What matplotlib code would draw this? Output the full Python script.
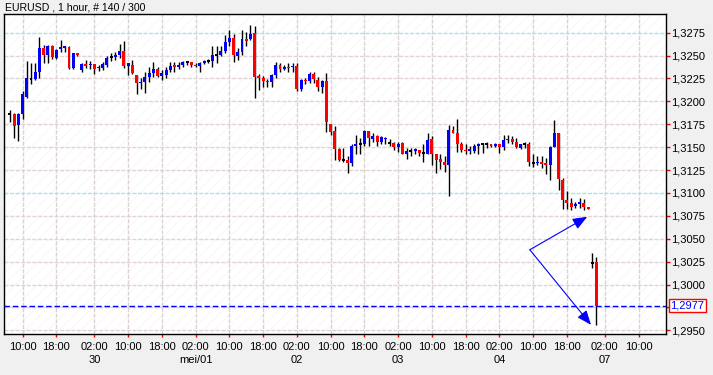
import matplotlib
matplotlib.use("Agg")
import matplotlib.pyplot as plt
from matplotlib.patches import Rectangle
from matplotlib.ticker import FuncFormatter, MultipleLocator

plt.rcParams['font.family'] = ['Liberation Sans', 'DejaVu Sans']
plt.rcParams['hatch.linewidth'] = 0.5

# hourly EURUSD candles (open, high, low, close), 140 bars
opens = [1.3186, 1.3186, 1.3174, 1.3186, 1.3205, 1.3224, 1.3224, 1.3232, 1.3258, 1.3251,
         1.3260, 1.3247, 1.3257, 1.3258, 1.3259, 1.3236, 1.3253, 1.3234, 1.3241, 1.3240,
         1.3241, 1.3236, 1.3236, 1.3240, 1.3248, 1.3248, 1.3251, 1.3255, 1.3239, 1.3240,
         1.3229, 1.3220, 1.3221, 1.3227, 1.3231, 1.3235, 1.3228, 1.3229, 1.3234, 1.3239,
         1.3238, 1.3240, 1.3243, 1.3243, 1.3240, 1.3239, 1.3242, 1.3244, 1.3244, 1.3251,
         1.3251, 1.3255, 1.3265, 1.3269, 1.3250, 1.3254, 1.3268, 1.3268, 1.3275, 1.3227,
         1.3226, 1.3222, 1.3221, 1.3229, 1.3240, 1.3235, 1.3237, 1.3237, 1.3239, 1.3214,
         1.3223, 1.3222, 1.3230, 1.3223, 1.3216, 1.3222, 1.3175, 1.3168, 1.3148, 1.3136,
         1.3136, 1.3133, 1.3151, 1.3154, 1.3154, 1.3168, 1.3159, 1.3162, 1.3156, 1.3159,
         1.3155, 1.3155, 1.3150, 1.3155, 1.3143, 1.3146, 1.3146, 1.3147, 1.3144, 1.3143,
         1.3159, 1.3142, 1.3137, 1.3134, 1.3131, 1.3169, 1.3166, 1.3154, 1.3147, 1.3146,
         1.3146, 1.3151, 1.3154, 1.3154, 1.3154, 1.3151, 1.3154, 1.3150, 1.3158, 1.3159,
         1.3156, 1.3149, 1.3154, 1.3154, 1.3133, 1.3133, 1.3134, 1.3133, 1.3130, 1.3150,
         1.3165, 1.3114, 1.3092, 1.3089, 1.3086, 1.3088, 1.3089, 1.3084, 1.3024, 1.3025]
highs = [1.3191, 1.3187, 1.3187, 1.3211, 1.3244, 1.3242, 1.3242, 1.3270, 1.3262, 1.3262,
         1.3262, 1.3257, 1.3267, 1.3261, 1.3260, 1.3253, 1.3253, 1.3242, 1.3245, 1.3244,
         1.3241, 1.3240, 1.3243, 1.3249, 1.3253, 1.3254, 1.3263, 1.3266, 1.3242, 1.3245,
         1.3229, 1.3226, 1.3232, 1.3238, 1.3243, 1.3238, 1.3234, 1.3238, 1.3243, 1.3243,
         1.3243, 1.3244, 1.3244, 1.3243, 1.3242, 1.3243, 1.3245, 1.3246, 1.3260, 1.3260,
         1.3260, 1.3272, 1.3278, 1.3274, 1.3258, 1.3278, 1.3276, 1.3283, 1.3282, 1.3230,
         1.3228, 1.3224, 1.3230, 1.3243, 1.3242, 1.3240, 1.3242, 1.3242, 1.3242, 1.3224,
         1.3226, 1.3232, 1.3232, 1.3227, 1.3223, 1.3231, 1.3175, 1.3173, 1.3149, 1.3149,
         1.3140, 1.3154, 1.3163, 1.3160, 1.3169, 1.3168, 1.3165, 1.3163, 1.3162, 1.3161,
         1.3159, 1.3156, 1.3156, 1.3156, 1.3149, 1.3149, 1.3149, 1.3147, 1.3153, 1.3165,
         1.3162, 1.3143, 1.3142, 1.3140, 1.3174, 1.3173, 1.3181, 1.3156, 1.3153, 1.3151,
         1.3154, 1.3155, 1.3155, 1.3156, 1.3154, 1.3155, 1.3154, 1.3163, 1.3163, 1.3162,
         1.3160, 1.3154, 1.3156, 1.3156, 1.3142, 1.3140, 1.3140, 1.3138, 1.3151, 1.3180,
         1.3166, 1.3116, 1.3102, 1.3095, 1.3090, 1.3094, 1.3093, 1.3084, 1.3034, 1.3030]
lows = [1.3178, 1.3160, 1.3157, 1.3181, 1.3204, 1.3219, 1.3223, 1.3226, 1.3242, 1.3242,
        1.3246, 1.3246, 1.3254, 1.3254, 1.3235, 1.3235, 1.3250, 1.3232, 1.3236, 1.3235,
        1.3230, 1.3233, 1.3234, 1.3237, 1.3244, 1.3245, 1.3247, 1.3236, 1.3229, 1.3230,
        1.3208, 1.3214, 1.3209, 1.3221, 1.3227, 1.3227, 1.3223, 1.3225, 1.3232, 1.3232,
        1.3235, 1.3238, 1.3240, 1.3237, 1.3238, 1.3232, 1.3241, 1.3242, 1.3237, 1.3242,
        1.3249, 1.3253, 1.3260, 1.3243, 1.3245, 1.3251, 1.3260, 1.3267, 1.3204, 1.3212,
        1.3216, 1.3216, 1.3216, 1.3225, 1.3232, 1.3234, 1.3232, 1.3232, 1.3211, 1.3211,
        1.3219, 1.3220, 1.3220, 1.3211, 1.3209, 1.3167, 1.3163, 1.3136, 1.3135, 1.3134,
        1.3122, 1.3129, 1.3143, 1.3143, 1.3151, 1.3151, 1.3156, 1.3151, 1.3154, 1.3153,
        1.3151, 1.3147, 1.3145, 1.3142, 1.3137, 1.3140, 1.3142, 1.3140, 1.3134, 1.3142,
        1.3131, 1.3122, 1.3126, 1.3123, 1.3097, 1.3165, 1.3145, 1.3145, 1.3143, 1.3142,
        1.3144, 1.3143, 1.3144, 1.3149, 1.3150, 1.3150, 1.3144, 1.3147, 1.3155, 1.3154,
        1.3149, 1.3148, 1.3149, 1.3129, 1.3128, 1.3130, 1.3127, 1.3121, 1.3114, 1.3150,
        1.3103, 1.3083, 1.3082, 1.3081, 1.3084, 1.3084, 1.3081, 1.3082, 1.3018, 1.2956]
closes = [1.3186, 1.3173, 1.3186, 1.3208, 1.3226, 1.3224, 1.3232, 1.3258, 1.3251, 1.3261,
          1.3248, 1.3256, 1.3259, 1.3260, 1.3236, 1.3253, 1.3251, 1.3241, 1.3239, 1.3241,
          1.3235, 1.3237, 1.3241, 1.3247, 1.3248, 1.3251, 1.3255, 1.3239, 1.3242, 1.3231,
          1.3220, 1.3221, 1.3227, 1.3231, 1.3235, 1.3228, 1.3231, 1.3234, 1.3239, 1.3238,
          1.3240, 1.3243, 1.3243, 1.3240, 1.3239, 1.3242, 1.3244, 1.3244, 1.3251, 1.3251,
          1.3255, 1.3265, 1.3269, 1.3251, 1.3254, 1.3268, 1.3266, 1.3274, 1.3227, 1.3226,
          1.3222, 1.3221, 1.3229, 1.3240, 1.3235, 1.3237, 1.3236, 1.3239, 1.3214, 1.3223,
          1.3222, 1.3230, 1.3224, 1.3216, 1.3222, 1.3177, 1.3167, 1.3148, 1.3136, 1.3136,
          1.3133, 1.3151, 1.3154, 1.3154, 1.3168, 1.3160, 1.3162, 1.3156, 1.3161, 1.3160,
          1.3155, 1.3150, 1.3154, 1.3143, 1.3146, 1.3146, 1.3148, 1.3144, 1.3144, 1.3158,
          1.3142, 1.3136, 1.3134, 1.3131, 1.3169, 1.3166, 1.3154, 1.3147, 1.3146, 1.3148,
          1.3151, 1.3154, 1.3154, 1.3154, 1.3151, 1.3154, 1.3150, 1.3158, 1.3159, 1.3156,
          1.3150, 1.3154, 1.3154, 1.3134, 1.3133, 1.3134, 1.3132, 1.3130, 1.3150, 1.3165,
          1.3115, 1.3092, 1.3089, 1.3085, 1.3088, 1.3090, 1.3085, 1.3083, 1.3024, 1.2977]

tick_pos = [3, 11, 20, 28, 36, 44, 52, 60, 68, 76, 84, 92, 100, 108, 116, 124, 132, 141, 149]
tick_lbl = ['10:00', '18:00', '02:00', '10:00', '18:00', '02:00', '10:00', '18:00', '02:00',
            '10:00', '18:00', '02:00', '10:00', '18:00', '02:00', '10:00', '18:00', '02:00', '10:00']
day_pos = [20, 44, 68, 92, 116, 141]
day_lbl = ['30', 'mei/01', '02', '03', '04', '07']

last_price = 1.2977
cyan_levels = [1.3275, 1.3100]
# hand drawn arrows: start point and two targets
arrow_from = (123.2, 1.3038)
arrow_to = [(136.8, 1.3074), (137.7, 1.2956)]


def price_fmt(v, pos):
    # the 1,2975 label sits behind the last-price box
    if abs(v - last_price) < 0.0005:
        return ''
    return ('%.4f' % v).replace('.', ',')


fig = plt.figure(figsize=(7.13, 3.75), dpi=100)
fig.patch.set_facecolor('#f0f0f0')
ax = fig.add_axes([4 / 713, 1 - 334 / 375, 661.7 / 713, 320 / 375])
ax.set_facecolor('white')
ax.add_patch(Rectangle((0, 0), 1, 1, transform=ax.transAxes, facecolor='none',
                       edgecolor='#f5f5f5', hatch='///', lw=0, zorder=0))

ax.set_xlim(-1.4, 155.4)
ax.set_ylim(1.2946, 1.32954)

# grid
for p in tick_pos:
    ax.axvline(p, color='#dcd2d2', lw=1, ls=(0, (3, 1)), zorder=1)
ax.yaxis.set_major_locator(MultipleLocator(0.0025))
for lv in [1.2950 + 0.0025 * k for k in range(14)]:
    col = '#a8e4ec' if any(abs(lv - c) < 1e-6 for c in cyan_levels) else '#e2d4d4'
    ax.axhline(lv, color=col, lw=1, ls=(0, (3, 1)), zorder=1)

# candles
w = 0.7
for i in range(len(opens)):
    o, h, l, c = opens[i], highs[i], lows[i], closes[i]
    ax.vlines(i, l, h, color='black', lw=1, zorder=2)
    if o == c:
        ax.hlines(o, i - w / 2, i + w / 2, color='black', lw=1.4, zorder=3)
    else:
        col = 'blue' if c > o else 'red'
        ax.bar(i, max(abs(c - o), 0.00012), bottom=min(o, c), width=w, color=col,
               lw=0, zorder=3)

ax.axhline(last_price, color='blue', lw=1, ls=(0, (4, 2)), zorder=4)

for tgt in arrow_to:
    ax.annotate('', xy=tgt, xytext=arrow_from,
                arrowprops=dict(arrowstyle='-|>,head_length=0.55,head_width=0.22',
                                color='blue', lw=0.8, mutation_scale=16,
                                shrinkA=0, shrinkB=0), zorder=5)

# axes styling
for s in ax.spines.values():
    s.set_color('black')
    s.set_linewidth(1)
ax.yaxis.tick_right()
ax.yaxis.set_major_formatter(FuncFormatter(price_fmt))
ax.tick_params(axis='y', colors='red', labelcolor='black', length=3, width=1,
               labelsize=8, pad=1)
ax.set_xticks(tick_pos)
ax.set_xticklabels(tick_lbl)
ax.tick_params(axis='x', colors='red', labelcolor='black', length=2.5, width=1,
               labelsize=8, pad=3)
for p, t in zip(day_pos, day_lbl):
    ax.text(p, -0.081, t, transform=ax.get_xaxis_transform(), ha='center', va='center',
            fontsize=8)

ax.text(1.0073, last_price, ('%.4f' % last_price).replace('.', ','),
        transform=ax.get_yaxis_transform(), color='blue', fontsize=8, ha='left',
        va='center', bbox=dict(facecolor='white', edgecolor='red', lw=1, pad=0.8),
        zorder=6)

fig.text(5 / 713, 1 - 7 / 375, 'EURUSD , 1 hour, # 140 / 300', fontsize=7.6,
         ha='left', va='center')

fig.savefig('out.png', dpi=100, facecolor=fig.get_facecolor())
